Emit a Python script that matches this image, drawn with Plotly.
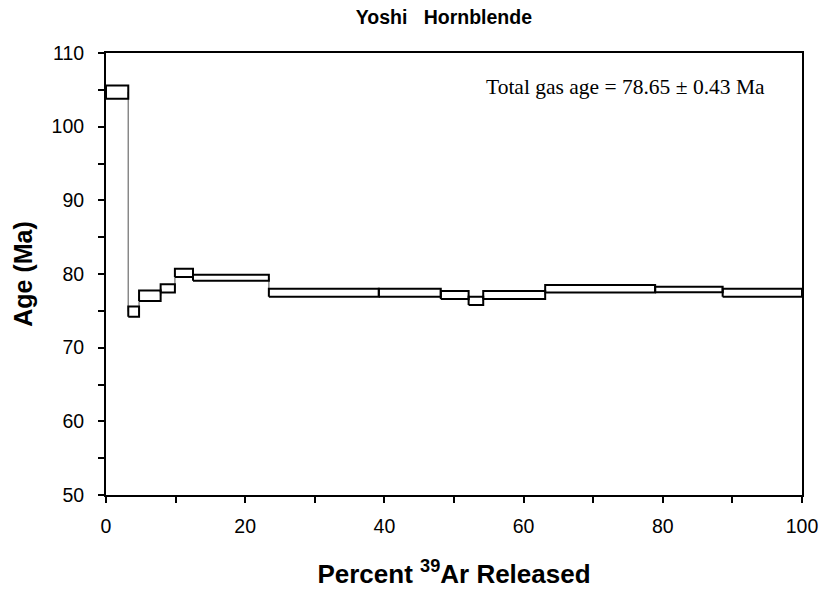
import plotly.graph_objects as go

# Cumulative % 39Ar boundaries of each heating step
cum_pct = [0, 3.2, 4.75, 7.85, 9.9, 12.5, 23.4, 39.2, 48.1, 52.1, 54.2, 63.1, 78.9, 88.6, 100]
# Apparent age (Ma) and half-height of each step box
ages = [104.7, 74.9, 77.05, 78.05, 80.15, 79.5, 77.45, 77.45, 77.15, 76.35, 77.15, 78.0, 77.9, 77.45]
errs = [0.9, 0.7, 0.7, 0.55, 0.55, 0.4, 0.55, 0.55, 0.55, 0.55, 0.55, 0.5, 0.38, 0.55]

title_text = "Yoshi   Hornblende"
x_title = "Percent <sup>39</sup>Ar Released"
y_title = "Age (Ma)"
note = "Total gas age = 78.65 ± 0.43 Ma"

fig = go.Figure()

# gray connectors between steps
cx, cy = [], []
for i in range(1, len(ages)):
    x = cum_pct[i]
    cx += [x, x, None]
    cy += [ages[i - 1], ages[i], None]
fig.add_trace(go.Scatter(x=cx, y=cy, mode="lines",
                         line=dict(color="#888888", width=1.5),
                         hoverinfo="skip", showlegend=False))

# step boxes
bx, by = [], []
for i, (a, e) in enumerate(zip(ages, errs)):
    x0, x1 = cum_pct[i], cum_pct[i + 1]
    bx += [x0, x1, x1, x0, x0, None]
    by += [a - e, a - e, a + e, a + e, a - e, None]
fig.add_trace(go.Scatter(x=bx, y=by, mode="lines",
                         line=dict(color="black", width=2),
                         hoverinfo="skip", showlegend=False))

axis_font = dict(family="Liberation Sans, Arial", size=19.5, color="black")
fig.update_layout(
    width=822, height=590,
    margin=dict(l=106, r=20, t=53, b=95, autoexpand=False),
    plot_bgcolor="white", paper_bgcolor="white",
    showlegend=False,
    title=dict(text="<b>" + title_text + "</b>", x=0.540,
               xanchor="center", y=0.971, yanchor="middle",
               font=dict(family="Liberation Sans, Arial", size=19.5, color="black")),
    xaxis=dict(range=[0, 100], dtick=20, tick0=0, showgrid=False, zeroline=False,
               automargin=False,
               showline=True, linecolor="black", linewidth=2, mirror=True,
               ticks="outside", ticklen=6, tickwidth=2, tickcolor="black",
               minor=dict(dtick=10, ticks="outside", ticklen=6, tickwidth=2, tickcolor="black"),
               tickfont=axis_font, ticklabelstandoff=7,
               title=dict(text="<b>" + x_title + "</b>", standoff=28,
                          font=dict(family="Liberation Sans, Arial", size=26, color="black"))),
    yaxis=dict(range=[50, 110], dtick=10, tick0=50, showgrid=False, zeroline=False,
               automargin=False,
               showline=True, linecolor="black", linewidth=2, mirror=True,
               ticks="outside", ticklen=6, tickwidth=2, tickcolor="black",
               minor=dict(dtick=5, ticks="outside", ticklen=6, tickwidth=2, tickcolor="black"),
               tickfont=axis_font, ticklabelstandoff=10,
               title=dict(text="<b>" + y_title + "</b>", standoff=12,
                          font=dict(family="Liberation Sans, Arial", size=25, color="black"))),
    annotations=[dict(text=note, xref="paper", yref="paper", x=0.95, y=0.923,
                      xanchor="right", yanchor="middle", showarrow=False,
                      font=dict(family="Liberation Serif, Times New Roman", size=21.5, color="black"))],
)

fig.write_html("out.html")
